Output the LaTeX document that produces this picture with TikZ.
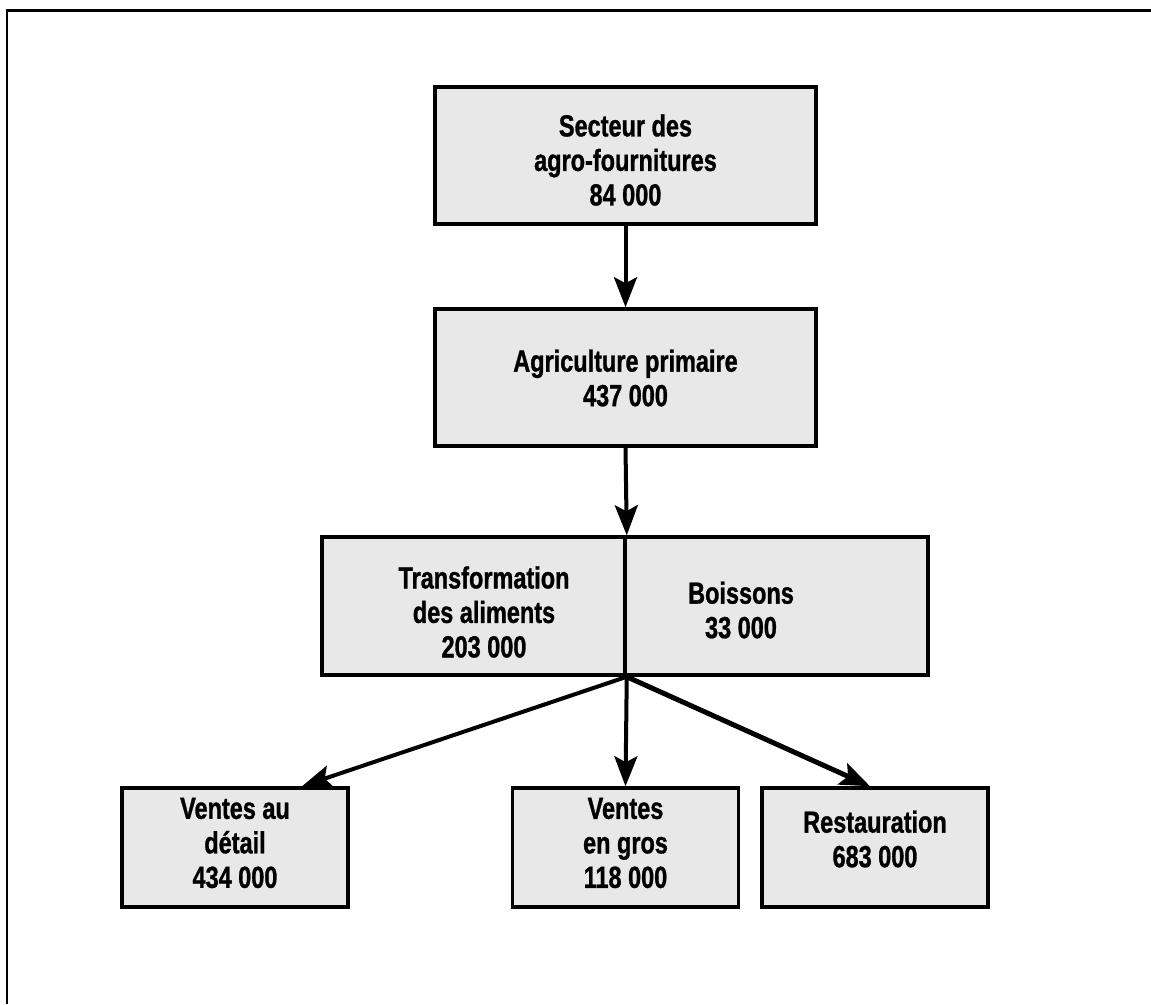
\documentclass[tikz,border=0pt]{standalone}
\usepackage{fontspec}
\setmainfont{Liberation Sans}[FakeStretch=0.77, BoldFeatures={FakeBold=1}]
\usetikzlibrary{arrows.meta}

\begin{document}
\begin{tikzpicture}[x=1pt, y=-1pt,
        sector/.style={draw, line width=3.5pt, fill=black!9, minimum width=381pt, minimum height=137pt, inner sep=0pt},
        half/.style={sector, minimum width=303pt, minimum height=138pt},
        outlet/.style={sector, minimum width=226pt, minimum height=119pt},
        figure/.style={align=center, font=\bfseries\fontsize{30.5}{34.5}\selectfont, inner sep=0pt},
        flow/.style={line width=4pt, -{Stealth[length=30pt, width=23pt, inset=6pt]}},
    ]
    \useasboundingbox (0,0) rectangle (1151,1004);

    % Column x-positions
    \def\cL{235}    % retail
    \def\cM{625.5}  % main column
    \def\cR{875}    % restaurants

    % ===== Frame (top and left only) =====
    \draw[line width=2.5pt] (7,1004) -- (7,10.5) -- (1151,10.5);

    % ===== Upper chain =====
    \node[sector] (sup) at (\cM, 155.5) {};
    \node[figure] (suptxt) at (\cM, 160) {Secteur des\\agro-fournitures\\84 000};

    \node[sector] (prim) at (\cM, 377.5) {};
    \node[figure] (primtxt) at (\cM, 378) {Agriculture primaire\\437 000};

    % ===== Processing row (two halves) =====
    \node[half] (food) at (473.5, 606) {};
    \node[half] (bev) at (776.5, 606) {};
    \node[figure] (foodtxt) at (484, 612) {Transformation\\des aliments\\203 000};
    \node[figure] (bevtxt) at (741, 610) {Boissons\\33 000};

    % ===== Outlets =====
    \node[outlet] (retail) at (\cL, 847.5) {};
    \node[figure] (retailtxt) at (\cL, 843) {Ventes au\\détail\\434 000};
    \node[outlet] (gros) at (\cM, 847.5) {};
    \node[figure] (grostxt) at (\cM, 843) {Ventes\\en gros\\118 000};
    \node[outlet] (resto) at (\cR, 847.5) {};
    \node[figure] (restotxt) at (\cR, 839) {Restauration\\683 000};

    % ===== Flows =====
    \draw[flow] (sup.south) -- (prim.north);
    \draw[flow] (prim.south) -- (food.north east);
    \draw[flow] (food.south east) -- ([xshift=67pt]retail.north);
    \draw[flow] (food.south east) -- (gros.north);
    \draw[flow, line width=5pt] (food.south east) -- ([xshift=-5pt]resto.north);

    \end{tikzpicture}
\end{document}
